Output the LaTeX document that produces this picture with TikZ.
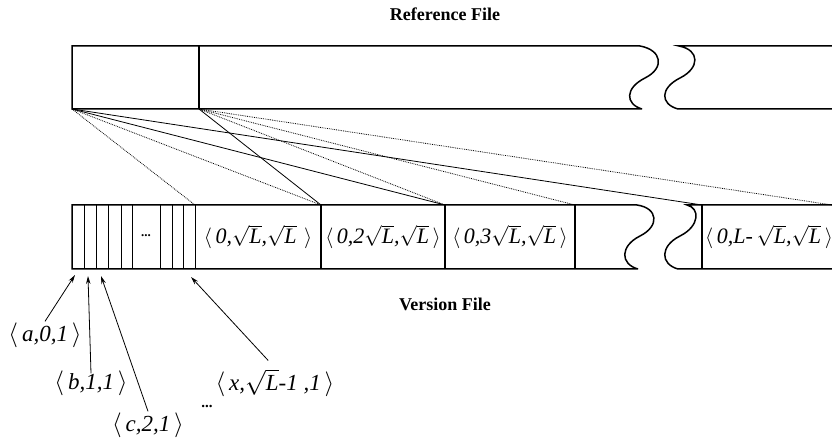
\documentclass[tikz,border=0pt]{standalone}
\usepackage{fontspec}
\setmainfont{Liberation Serif}
\usetikzlibrary{arrows.meta}
\newcommand{\rL}{$\sqrt{\mbox{\itshape L}}$}
\newcommand{\tup}[1]{$\langle$\,\textit{#1}\,$\rangle$}
\tikzset{
  bar/.style={line width=1.5pt},
  thin bar/.style={line width=1pt},
  fan/.style={line width=0.8pt},
  cell/.style={font=\fontsize{22}{26}\selectfont, inner sep=1pt},
  tag/.style={font=\fontsize{23}{27}\selectfont, inner sep=1pt},
  title/.style={font=\fontsize{18}{22}\selectfont\bfseries},
  ptr/.style={-{Stealth[length=8pt,width=4.5pt]}, line width=0.8pt}
}
\begin{document}
\begin{tikzpicture}[x=1pt,y=-1pt]
  \useasboundingbox (0,0) rectangle (832,443);
  % reference file
  \draw[bar] (642,109) -- (72,109) -- (72,46) -- (640,46)
    .. controls (662,50) and (665,68) .. (645,78)
    .. controls (625,88) and (625,104) .. (642,109);
  \draw[bar] (199,46) -- (199,109);
  \draw[bar] (832,46) -- (679,46)
    .. controls (700,50) and (700,68) .. (680,78)
    .. controls (660,88) and (660,104) .. (678,109) -- (832,109);
  % version file
  \draw[bar] (638,269) -- (72,269) -- (72,205) -- (637,205)
    .. controls (658,208) and (660,226) .. (640,236)
    .. controls (620,246) and (620,264) .. (638,269);
  \draw[bar] (832,205) -- (687,205)
    .. controls (700,208) and (700,226) .. (680,236)
    .. controls (660,246) and (660,264) .. (678,269) -- (832,269);
  \foreach \x in {84,96,108,121,132,160,172,183,195}
    \draw[thin bar] (\x,205) -- (\x,269);
  \foreach \x in {321,445,575,702}
    \draw[bar] (\x,205) -- (\x,269);
  \node[title] (ref) at (445,14) {Reference File};
  \node[title] (ver) at (445,304) {Version File};
  \node[font=\bfseries\fontsize{13}{14}\selectfont, inner sep=0pt] (gap) at (146,236) {...};
  \node[cell] (c1) at (258,237) {\tup{0,\rL,\rL\,}};
  \node[cell] (c2) at (383,237) {\tup{0,2\rL,\rL}};
  \node[cell] (c3) at (510,237) {\tup{0,3\rL,\rL}};
  \node[cell,anchor=west] (c4) at (704,237) {\tup{0,L-\,\rL,\rL}};
  % block edges
  \coordinate (r0) at (72,109);
  \coordinate (r1) at (199,109);
  \coordinate (v0) at (195,205);
  \coordinate (v1) at (321,205);
  \coordinate (v2) at (445,205);
  \coordinate (v3) at (575,205);
  \coordinate (v4) at (702,205);
  \coordinate (v5) at (832,205);
  \begin{scope}[fan, densely dotted]
    \draw (r0) to (v0);
    \draw (r0) to (v1);
    \draw (r1) to (v2);
    \draw (r1) to (v3);
    \draw (r1) to (v5);
  \end{scope}
  \begin{scope}[fan]
    \draw (r1) to (v1);
    \draw (r0) to (v2);
    \draw (r0) to (v4);
  \end{scope}
  % single entries
  \node[tag] (ta) at (45,335) {\tup{a,0,1}};
  \node[tag] (tb) at (91,383) {\tup{b,1,1}};
  \node[tag] (tc) at (148,425) {\tup{c,2,1}};
  \node[tag] (tx) at (275,383) {\tup{x,\rL-1 ,1}};
  \node[font=\bfseries\fontsize{15}{16}\selectfont, inner sep=0pt] (more) at (207,406) {...};
  \coordinate (pa) at (75,275);
  \coordinate (pb) at (88,276);
  \coordinate (pc) at (101,276);
  \coordinate (px) at (191,277);
  \draw[ptr] (ta.north) -- (pa);
  \draw[ptr] ([yshift=-4pt]tb.north) -- (pb);
  \draw[ptr] (tc.north) -- (pc);
  \draw[ptr, shorten <=10pt] (tx.north) -- (px);
\end{tikzpicture}
\end{document}
